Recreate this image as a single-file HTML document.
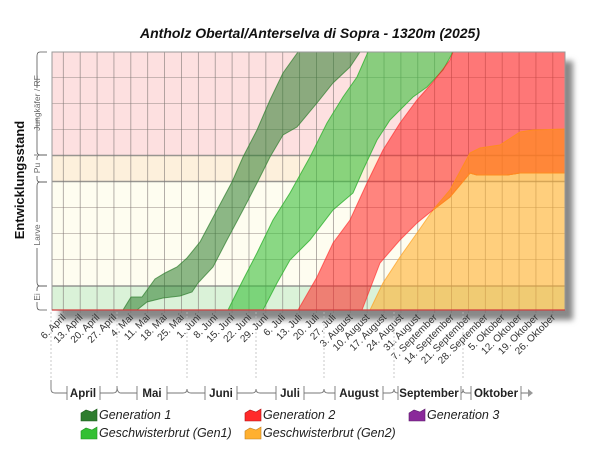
<!DOCTYPE html>
<html><head><meta charset="utf-8"><style>
html,body{margin:0;padding:0;background:#fff;width:600px;height:460px;overflow:hidden}
svg{display:block;font-family:"Liberation Sans",sans-serif}
</style></head><body>
<svg width="600" height="460" viewBox="0 0 600 460" xmlns="http://www.w3.org/2000/svg">
<defs>
<filter id="sh" x="-10%" y="-10%" width="130%" height="130%"><feGaussianBlur stdDeviation="3"/></filter>
</defs>
<text x="310" y="38" text-anchor="middle" font-size="14" font-weight="bold" font-style="italic" fill="#111">Antholz Obertal/Anterselva di Sopra - 1320m (2025)</text>
<rect x="60" y="61" width="513" height="259" fill="#888" filter="url(#sh)"/>
<rect x="52" y="52" width="513" height="103" fill="#fde0e0"/>
<rect x="52" y="155" width="513" height="27" fill="#fdf0dc"/>
<rect x="52" y="182" width="513" height="104" fill="#fefdf0"/>
<rect x="52" y="286" width="513" height="24" fill="#daf2d8"/>
<g stroke="#9a8f8a" stroke-width="0.8" opacity="0.7">
<line x1="52" y1="77.5" x2="565" y2="77.5"/><line x1="52" y1="103.5" x2="565" y2="103.5"/><line x1="52" y1="129.5" x2="565" y2="129.5"/>
<line x1="52" y1="207.5" x2="565" y2="207.5"/><line x1="52" y1="233.5" x2="565" y2="233.5"/><line x1="52" y1="259.5" x2="565" y2="259.5"/>
</g>
<g stroke="#7a7270" stroke-width="0.8" opacity="0.7" id="vg"></g>
<g stroke="#777" stroke-width="1.6" opacity="0.75">
<line x1="52" y1="155.5" x2="565" y2="155.5"/><line x1="52" y1="181.5" x2="565" y2="181.5"/><line x1="52" y1="286" x2="565" y2="286"/>
</g>
<polygon fill="#2e7d2e" fill-opacity="0.55" stroke="#2e7d2e" stroke-opacity="0.7" stroke-width="1"
points="123,310 131,297 142,297 155,279 165,273 177,267 187,258 200,242 217,210 232,182 243,157 257,130 270,100 283,73 298,52 360,52 350,67 333,83 317,103 297,127 283,135 270,157 257,183 243,210 227,240 213,267 198,283 192,292 180,296 163,298 147,302 137,310"/>
<polygon fill="#3cc03c" fill-opacity="0.6" stroke="#30b030" stroke-opacity="0.8" stroke-width="1"
points="228,310 243,280 257,253 273,220 290,193 310,157 327,123 343,97 357,77 368,52 453,52 443,70 427,87 413,97 390,120 377,140 363,170 353,193 333,210 310,240 290,260 277,283 263,310"/>
<polygon fill="#ffb030" fill-opacity="0.6" stroke="#ffa020" stroke-opacity="0.7" stroke-width="1"
points="370,310 383,283 400,257 417,233 433,210 450,197 470,173 477,175 507,175 520,173 565,173 565,310"/>
<polygon fill="#ff2020" fill-opacity="0.55" stroke="#ff2020" stroke-opacity="0.6" stroke-width="1"
points="298,310 317,277 333,243 350,220 367,183 383,150 400,123 417,100 433,82 450,60 453,52 565,52 565,173 520,173 507,175 477,175 470,173 450,197 433,210 417,223 400,240 380,263 362,310"/>
<polygon fill="#ff8c20" fill-opacity="0.7" stroke="#ff8c20" stroke-width="1"
points="433,210 450,190 470,153 480,148 500,145 520,132 533,130 565,129 565,173 520,173 507,175 477,175 470,173 450,197"/>
<rect x="52" y="52" width="513" height="258" fill="none" stroke="#999" stroke-width="1"/>
<line x1="52" y1="310" x2="565" y2="310" stroke="#d04040" stroke-width="1.2"/>
<text transform="translate(24,180) rotate(-90)" text-anchor="middle" font-size="13" font-weight="bold" fill="#111">Entwicklungsstand</text>
<g stroke="#555" stroke-width="0.8" fill="none">
<path d="M47,52 H40 Q37,52 37,56 V88 M37,118 V151 Q37,155 40,155 H47 M34,155 H37"/>
<path d="M47,155 H40 Q37,155 37,158 V160 M37,176 V179 Q37,182 40,182 H47"/>
<path d="M47,182 H40 Q37,182 37,186 V222 M37,248 V282 Q37,286 40,286 H47"/>
<path d="M47,286 H40 Q37,286 37,289 V291 M37,302 V306 Q37,310 40,310 H47"/>
</g>
<g font-size="8.5" fill="#666" text-anchor="middle">
<text transform="translate(40,103) rotate(-90)">Jungkäfer / RF</text>
<text transform="translate(40,168) rotate(-90)">Pu</text>
<text transform="translate(40,235) rotate(-90)">Larve</text>
<text transform="translate(40,297) rotate(-90)">Ei</text>
</g>
<g id="xl" font-size="10" fill="#333" text-anchor="end"></g>
<g stroke="#bbb" stroke-width="0.8" stroke-dasharray="2,2">
<line x1="51" y1="312" x2="51" y2="380"/><line x1="117" y1="312" x2="117" y2="380"/><line x1="187" y1="312" x2="187" y2="380"/><line x1="256" y1="312" x2="256" y2="380"/><line x1="324" y1="312" x2="324" y2="380"/><line x1="394" y1="312" x2="394" y2="380"/><line x1="463" y1="312" x2="463" y2="380"/>
</g>
<g stroke="#777" stroke-width="0.9" fill="none">
<path d="M51,380 V389 Q51,393 55,393 H67 M67,386 V400"/>
<path d="M100,386 V400 M100,393 H113 Q117,393 117,389 V386 Q117,393 121,393 H137 M137,386 V400"/>
<path d="M167,386 V400 M167,393 H183 Q187,393 187,389 Q187,393 191,393 H205 M205,386 V400"/>
<path d="M237,386 V400 M237,393 H252 Q256,393 256,389 Q256,393 260,393 H276 M276,386 V400"/>
<path d="M304,386 V400 M304,393 H320 Q324,393 324,389 Q324,393 328,393 H335 M335,386 V400"/>
<path d="M383,386 V400 M383,393 H390 Q394,393 394,389 Q394,393 398,393 M398,386 V400"/>
<path d="M461,386 V400 M461,393 Q463,393 463,389 Q463,393 466,393 H471 M471,386 V400"/>
<path d="M521,386 V400 M521,393 H528"/>
</g>
<polygon points="528,389 533,393 528,397" fill="#999"/>
<g font-size="11.5" font-weight="bold" fill="#222" text-anchor="middle">
<text x="83" y="397">April</text><text x="152" y="397">Mai</text><text x="221" y="397">Juni</text><text x="290" y="397">Juli</text><text x="359" y="397">August</text><text x="429" y="397">September</text><text x="496" y="397">Oktober</text>
</g>
<g font-size="12.5" font-style="italic" fill="#222">
<path d="M81,421 V413 L86,410 L92,412 L97,409 V421 Z" fill="#2e7d2e" stroke="#1d5a1d" stroke-width="0.6"/>
<text x="99" y="419">Generation 1</text>
<path d="M245,421 V413 L250,410 L256,412 L261,409 V421 Z" fill="#ff2a2a" stroke="#b01010" stroke-width="0.6"/>
<text x="263" y="419">Generation 2</text>
<path d="M409,421 V413 L414,410 L420,412 L425,409 V421 Z" fill="#8a2a9a" stroke="#5a1a6a" stroke-width="0.6"/>
<text x="427" y="419">Generation 3</text>
<path d="M81,439 V431 L86,428 L92,430 L97,427 V439 Z" fill="#33c033" stroke="#209020" stroke-width="0.6"/>
<text x="99" y="437">Geschwisterbrut (Gen1)</text>
<path d="M245,439 V431 L250,428 L256,430 L261,427 V439 Z" fill="#ffb030" stroke="#c08020" stroke-width="0.6"/>
<text x="263" y="437">Geschwisterbrut (Gen2)</text>
</g>
<script>
(function(){
var ns="http://www.w3.org/2000/svg";
var vg=document.getElementById("vg"),xl=document.getElementById("xl");
var labels=["6. April","13. April","20. April","27. April","4. Mai","11. Mai","18. Mai","25. Mai","1. Juni","8. Juni","15. Juni","22. Juni","29. Juni","6. Juli","13. Juli","20. Juli","27. Juli","3. August","10. August","17. August","24. August","31. August","7. September","14. September","21. September","28. September","5. Oktober","12. Oktober","19. Oktober","26. Oktober"];
for(var k=0;k<30;k++){
 var x=63.3+16.88*k;
 var l=document.createElementNS(ns,"line");
 l.setAttribute("x1",x);l.setAttribute("x2",x);l.setAttribute("y1",52);l.setAttribute("y2",313);
 vg.appendChild(l);
 var t=document.createElementNS(ns,"text");
 t.setAttribute("transform","translate("+(x+3)+",318) rotate(-45)");
 t.textContent=labels[k];
 xl.appendChild(t);
}
})();
</script>
</svg>
</body></html>
